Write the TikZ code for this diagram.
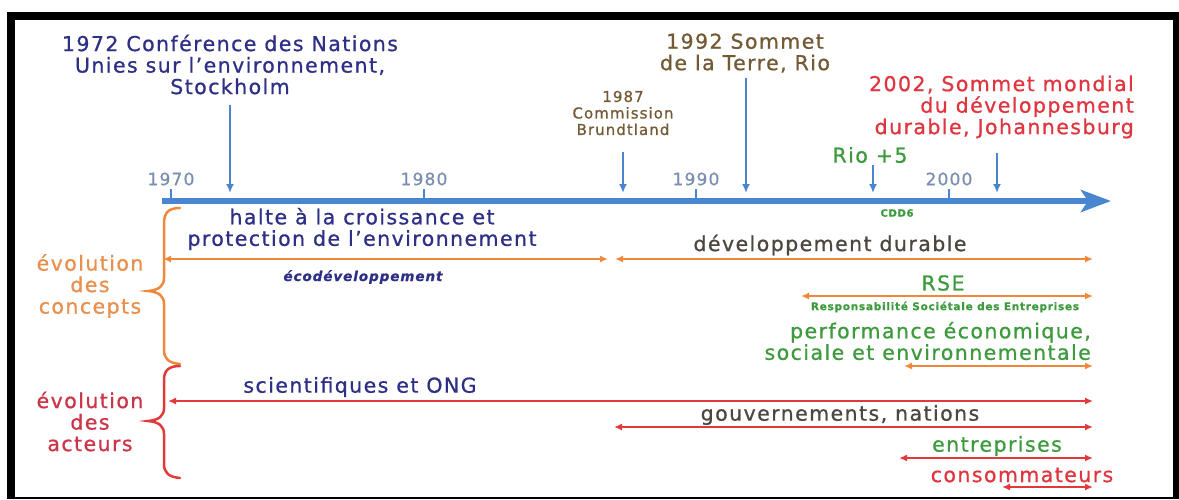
\documentclass[tikz,border=0pt]{standalone}
\usepackage{fontspec}
\setmainfont{DejaVu Sans}[LetterSpace=7,FakeBold=0.8]
\usetikzlibrary{arrows.meta}
\definecolor{navy}{HTML}{2E2F86}
\definecolor{brownt}{HTML}{735A35}
\definecolor{grayt}{HTML}{4D4740}
\definecolor{greent}{HTML}{3D9B3D}
\definecolor{redt}{HTML}{E0353F}
\definecolor{oranget}{HTML}{E8904E}
\definecolor{redact}{HTML}{CC3548}
\definecolor{axisblue}{HTML}{4A86D0}
\definecolor{ticklabc}{HTML}{7A8FB0}
\definecolor{orangeline}{HTML}{F0883C}
\definecolor{redline}{HTML}{E23A3A}
\tikzset{
  bigtxt/.style={font=\fontsize{20.5}{21.5}\selectfont, align=center, inner sep=0pt},
  midtxt/.style={font=\fontsize{15}{16.5}\selectfont, align=center, inner sep=0pt},
  ticklab/.style={font=\fontsize{17}{18}\selectfont, text=ticklabc, inner sep=0pt},
  evarrow/.style={draw=axisblue, line width=2.5pt, -{Latex[length=9pt,width=8pt]}},
  tickmark/.style={draw=axisblue, line width=2pt},
  spanor/.style={draw=orangeline, line width=2.5pt, {Latex[length=8pt,width=7pt]}-{Latex[length=8pt,width=7pt]}},
  spanred/.style={draw=redline, line width=2.5pt, {Latex[length=8pt,width=7pt]}-{Latex[length=8pt,width=7pt]}},
}
\begin{document}
\begin{tikzpicture}[x=1pt,y=-1pt]
\useasboundingbox (0,0) rectangle (1179,499);
\fill[white] (0,0) rectangle (1179,499);
% frame
\fill[black] (7,12) rectangle (15,499);
\fill[black] (7,12) rectangle (1179,20);
\fill[black] (1173,12) rectangle (1179,499);
\fill[black] (7,497) rectangle (1179,499);

% axis
\coordinate (ax0) at (162,201);
\coordinate (ax1) at (1111,201);
\draw[axisblue, line width=6pt, -{Stealth[length=30pt,width=22pt,inset=7pt]}] (ax0) -- (ax1);

% ticks
\foreach \x/\yr in {171/1970, 424/1980, 696/1990, 949/2000} {
  \node[ticklab] (t\yr) at (\x,179) {\yr};
  \coordinate (ta\yr) at (\x,189);
  \coordinate (tb\yr) at (\x,199);
  \draw[tickmark] (ta\yr) -- (tb\yr);
}

% events
\node[bigtxt, text=navy] (n1972) at (230,64.5) {1972 Conférence des Nations\\Unies sur l’environnement,\\Stockholm};
\node[bigtxt, text=brownt] (n1992) at (745,53) {1992 Sommet\\de la Terre, Rio};
\node[midtxt, text=brownt] (n1987) at (623,113) {1987\\Commission\\Brundtland};
\node[bigtxt, text=redt, align=right, anchor=east] (n2002) at (1134,107) {2002, Sommet mondial\\du développement\\durable, Johannesburg};
\node[bigtxt, text=greent] (nrio) at (870,155) {Rio +5};
\node[font=\fontsize{10}{11}\selectfont\bfseries, text=greent, inner sep=0pt] (cdd) at (897,213) {CDD6};

\coordinate (a72) at (230,105); \coordinate (b72) at (230,193);
\coordinate (a87) at (623,152); \coordinate (b87) at (623,193);
\coordinate (a92) at (746,78);  \coordinate (b92) at (746,193);
\coordinate (a97) at (873,165); \coordinate (b97) at (873,193);
\coordinate (a02) at (997,153); \coordinate (b02) at (997,193);
\draw[evarrow] (a72) -- (b72);
\draw[evarrow] (a87) -- (b87);
\draw[evarrow] (a92) -- (b92);
\draw[evarrow] (a97) -- (b97);
\draw[evarrow] (a02) -- (b02);

% concepts
\node[bigtxt, text=navy] (halte) at (362,229) {halte à la croissance et\\protection de l’environnement};
\node[font=\fontsize{13.5}{14}\selectfont\bfseries\itshape, text=navy, inner sep=0pt] (eco) at (363,277) {écodéveloppement};
\node[bigtxt, text=grayt] (dd) at (830,245) {développement durable};
\node[bigtxt, text=greent] (rse) at (943,283) {RSE};
\node[font=\fontsize{10.5}{11}\selectfont\bfseries, text=greent, inner sep=0pt] (rsel) at (945,307) {Responsabilité Sociétale des Entreprises};
\node[bigtxt, text=greent, align=right, anchor=east] (perf) at (1091,341) {performance économique,\\sociale et environnementale};

\coordinate (o1a) at (163,259); \coordinate (o1b) at (608,259);
\coordinate (o2a) at (615,259); \coordinate (o2b) at (1093,259);
\coordinate (o3a) at (801,296); \coordinate (o3b) at (1093,296);
\coordinate (o4a) at (904,366); \coordinate (o4b) at (1093,366);
\draw[spanor] (o1a) -- (o1b);
\draw[spanor] (o2a) -- (o2b);
\draw[spanor] (o3a) -- (o3b);
\draw[spanor] (o4a) -- (o4b);

% actors
\node[bigtxt, text=navy] (sci) at (360,387) {scientifiques et ONG};
\node[bigtxt, text=grayt] (gouv) at (840,415) {gouvernements, nations};
\node[bigtxt, text=greent] (entr) at (997,446) {entreprises};
\node[bigtxt, text=redt] (cons) at (1022,475) {consommateurs};

\coordinate (r1a) at (168,401); \coordinate (r1b) at (1093,401);
\coordinate (r2a) at (614,427); \coordinate (r2b) at (1093,427);
\coordinate (r3a) at (899,458); \coordinate (r3b) at (1093,458);
\coordinate (r4a) at (1002,487); \coordinate (r4b) at (1093,487);
\draw[spanred] (r1a) -- (r1b);
\draw[spanred] (r2a) -- (r2b);
\draw[spanred] (r3a) -- (r3b);
\draw[spanred] (r4a) -- (r4b);

% braces
\draw[orangeline, line width=2.5pt, line cap=round]
  (180,208) .. controls (168,208) and (164,213) .. (164,224) -- (164,278)
  .. controls (164,286) and (159,290) .. (148,291)
  .. controls (159,292) and (164,296) .. (164,304) -- (164,350)
  .. controls (164,359) and (169,363) .. (180,364);
\draw[redline, line width=2.5pt, line cap=round]
  (180,366) .. controls (168,366) and (164,371) .. (164,380) -- (164,408)
  .. controls (164,416) and (159,420) .. (148,421)
  .. controls (159,422) and (164,426) .. (164,434) -- (164,464)
  .. controls (164,473) and (169,477) .. (180,478);
\node[bigtxt, text=oranget] (evc) at (90,286) {évolution\\des\\concepts};
\node[bigtxt, text=redact] (eva) at (90,421.5) {évolution\\des\\acteurs};
\end{tikzpicture}
\end{document}
